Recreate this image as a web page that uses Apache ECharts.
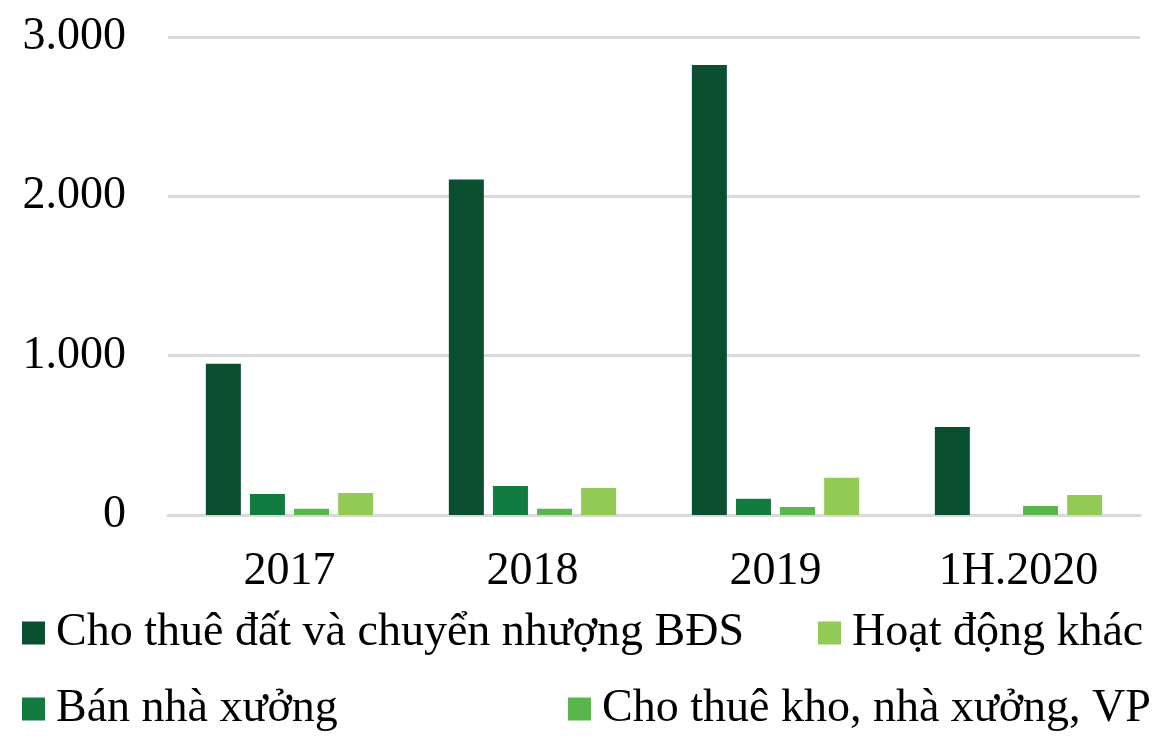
<!DOCTYPE html>
<html><head><meta charset="utf-8">
<script src="https://cdn.jsdelivr.net/npm/echarts@6/dist/echarts.min.js"></script>
<style>html,body{margin:0;padding:0;background:#fff}#c{width:1174px;height:750px}</style>
</head><body><div id="c"></div>
<script>
const categories = ['2017', '2018', '2019', '1H.2020'];
const seriesNames = ['Cho thuê đất và chuyển nhượng BĐS', 'Bán nhà xưởng', 'Cho thuê kho, nhà xưởng, VP', 'Hoạt động khác'];
const choThueDat = [950, 2105, 2825, 552];
const banNhaXuong = [132, 182, 102, 0];
const choThueKho = [40, 40, 50, 56];
const hoatDongKhac = [138, 170, 234, 125];
const yTicks = [0, 1000, 2000, 3000];
const colors = ['#0a4f30', '#127c40', '#58b64b', '#93c955'];
const font = "'Liberation Serif', 'Times New Roman', serif";

const values = [choThueDat, banNhaXuong, choThueKho, hoatDongKhac];
const chart = echarts.init(document.getElementById('c'));
function lg(name, left, top) {
  return {
    data: [name], left: left, top: top, orient: 'horizontal',
    itemWidth: 23, itemHeight: 23, padding: 0,
    icon: 'rect', selectedMode: false,
    textStyle: { fontFamily: font, fontSize: 46, color: '#000', padding: [0, 0, 0, 6] }
  };
}
chart.setOption({
  animation: false,
  color: colors,
  grid: { left: 168, right: 34, top: 37, bottom: 235, containLabel: false },
  legend: [
    lg(seriesNames[0], 22, 610),
    lg(seriesNames[3], 818, 610),
    lg(seriesNames[1], 22, 686),
    lg(seriesNames[2], 568, 686)
  ],
  xAxis: {
    type: 'category', data: categories,
    axisLine: { lineStyle: { color: '#d9d9d9', width: 3 } },
    axisTick: { show: false },
    axisLabel: { fontFamily: font, fontSize: 46, color: '#000', margin: 34 }
  },
  yAxis: {
    type: 'value', min: 0, max: 3000, interval: 1000,
    axisLine: { show: false }, axisTick: { show: false },
    splitLine: { lineStyle: { color: '#d9d9d9', width: 3 } },
    axisLabel: {
      fontFamily: font, fontSize: 46, color: '#000', margin: 42,
      formatter: v => yTicks.includes(v) ? (v === 0 ? '0' : (v / 1000) + '.000') : ''
    }
  },
  series: values.map((d, i) => ({
    name: seriesNames[i], type: 'bar', data: d,
    barWidth: 35, barGap: '26%',
    itemStyle: { color: colors[i] }
  }))
});
</script></body></html>
